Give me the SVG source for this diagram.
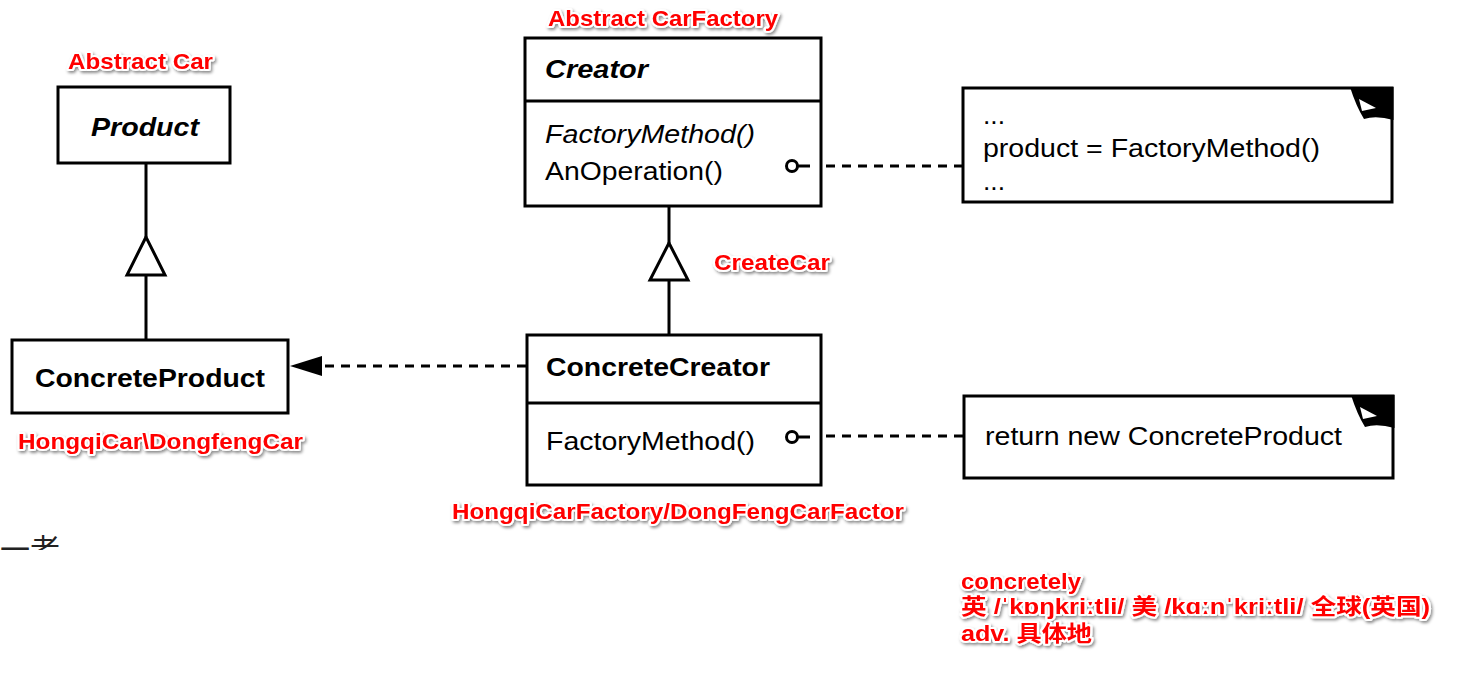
<svg xmlns="http://www.w3.org/2000/svg" width="1458" height="686" viewBox="0 0 1458 686">
<style>
.box{fill:#fff;stroke:#000;stroke-width:3}
.line{fill:none;stroke:#000;stroke-width:3}
.dash{fill:none;stroke:#000;stroke-width:3;stroke-dasharray:9 7}
.t{font-family:"Liberation Sans",Arial,sans-serif;fill:#000;font-size:26px}
.b{font-weight:bold}
.i{font-style:italic}
.red{font-family:"Liberation Sans","Noto Sans CJK SC",Arial,sans-serif;font-weight:bold;font-size:22px;fill:#f00;stroke:#fff;stroke-width:4;paint-order:stroke;stroke-linejoin:round;filter:url(#sh)}
</style>
<defs>
<filter id="sh" x="-10%" y="-30%" width="120%" height="170%">
<feDropShadow dx="1.5" dy="2" stdDeviation="1.5" flood-color="#000" flood-opacity="0.45"/>
</filter>
<clipPath id="clipFrag"><rect x="0" y="530" width="120" height="20"/></clipPath>
</defs>
<rect width="1458" height="686" fill="#fff"/>

<g id="product">
<rect class="box" x="58" y="87" width="172" height="76"/>
<text class="t b i" x="145" y="136" text-anchor="middle" textLength="108" lengthAdjust="spacingAndGlyphs">Product</text>
</g>

<g id="concrete-product">
<rect class="box" x="12" y="340" width="276" height="73"/>
<text class="t b" x="35" y="387" textLength="230" lengthAdjust="spacingAndGlyphs">ConcreteProduct</text>
</g>

<g id="creator">
<rect class="box" x="525" y="38" width="296" height="168"/>
<path class="line" d="M525,101 H821"/>
<text class="t b i" x="545" y="78" textLength="103" lengthAdjust="spacingAndGlyphs">Creator</text>
<text class="t i" x="545" y="143" textLength="210" lengthAdjust="spacingAndGlyphs">FactoryMethod()</text>
<text class="t" x="545" y="180" textLength="178" lengthAdjust="spacingAndGlyphs">AnOperation()</text>
</g>

<g id="concrete-creator">
<rect class="box" x="527" y="335" width="294" height="150"/>
<path class="line" d="M527,403 H821"/>
<text class="t b" x="546" y="376" textLength="224" lengthAdjust="spacingAndGlyphs">ConcreteCreator</text>
<text class="t" x="546" y="450" textLength="209" lengthAdjust="spacingAndGlyphs">FactoryMethod()</text>
</g>

<g id="note1">
<path class="box" d="M963,88 H1392 V202 H963 Z"/>
<path d="M1350,87 H1393.5 V120 Q1376,115 1364,119 Q1356,106 1350,87 Z" fill="#000"/>
<path d="M1359,99 L1376,108 L1362,111 Z" fill="#fff"/>
<text class="t" x="983" y="124" textLength="22" lengthAdjust="spacingAndGlyphs">...</text>
<text class="t" x="983" y="157" textLength="337" lengthAdjust="spacingAndGlyphs">product = FactoryMethod()</text>
<text class="t" x="983" y="190" textLength="22" lengthAdjust="spacingAndGlyphs">...</text>
</g>

<g id="note2">
<path class="box" d="M964,396 H1393 V478 H964 Z"/>
<path d="M1351,395 H1394.5 V428 Q1377,423 1365,427 Q1357,414 1351,395 Z" fill="#000"/>
<path d="M1360,407 L1377,416 L1363,419 Z" fill="#fff"/>
<text class="t" x="985" y="445" textLength="357" lengthAdjust="spacingAndGlyphs">return new ConcreteProduct</text>
</g>

<g id="connectors">
<path class="line" d="M146,164 V237 M146,275 V339"/>
<path class="box" d="M146,237 L127,275 H165 Z"/>
<path class="line" d="M669,207 V243 M669,280 V334"/>
<path class="box" d="M669,243 L650,280 H688 Z"/>
<path class="dash" d="M526,366 H325"/>
<path d="M290,366 L322,356 V376 Z" fill="#000"/>
<circle cx="792" cy="166" r="5.5" fill="#fff" stroke="#000" stroke-width="3"/>
<path class="line" d="M797.5,166 H810"/>
<path class="dash" d="M826,166 H962"/>
<circle cx="792" cy="437" r="5.5" fill="#fff" stroke="#000" stroke-width="3"/>
<path class="line" d="M797.5,437 H810"/>
<path class="dash" d="M826,436 H963"/>
</g>

<g id="labels">
<text class="red" x="68" y="69" textLength="145" lengthAdjust="spacingAndGlyphs">Abstract Car</text>
<text class="red" x="548" y="26" textLength="230" lengthAdjust="spacingAndGlyphs">Abstract CarFactory</text>
<text class="red" x="714" y="270" textLength="116" lengthAdjust="spacingAndGlyphs">CreateCar</text>
<text class="red" x="18" y="449" textLength="285" lengthAdjust="spacingAndGlyphs">HongqiCar\DongfengCar</text>
<text class="red" x="452" y="519" textLength="452" lengthAdjust="spacingAndGlyphs">HongqiCarFactory/DongFengCarFactor</text>
<text class="red" x="961" y="589" textLength="120" lengthAdjust="spacingAndGlyphs">concretely</text>
<text class="red" x="961" y="614" textLength="469" lengthAdjust="spacingAndGlyphs">英 /ˈkɒŋkriːtli/  美 /kɑːnˈkriːtli/  全球(英国)</text>
<text class="red" x="961" y="641" textLength="131" lengthAdjust="spacingAndGlyphs">adv. 具体地</text>
</g>

<g id="fragment" clip-path="url(#clipFrag)">
<text x="0" y="560" font-family="'Noto Sans CJK SC',sans-serif" font-size="30" fill="#222">一者</text>
</g>
</svg>
